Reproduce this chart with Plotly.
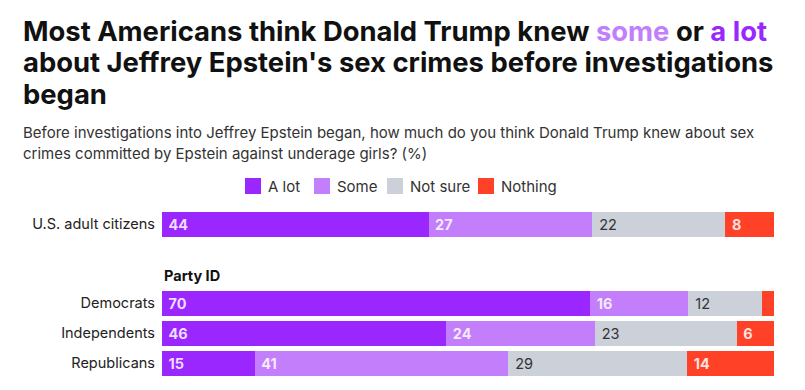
import plotly.graph_objects as go

# ---- data ----
categories = ["U.S. adult citizens", "Democrats", "Independents", "Republicans"]
a_lot = [44, 70, 46, 15]
some = [27, 16, 24, 41]
not_sure = [22, 12, 23, 29]
nothing = [8, 2, 6, 14]
series_names = ["A lot", "Some", "Not sure", "Nothing"]
colors = ["#9b27ff", "#c27efb", "#cbd0d9", "#ff4128"]

# ---- geometry (reference-window pixels; page body adds an 8px margin) ----
OFF = 8
W, H = 805 - OFF, 390 - OFF
L, R, T, B = 162, 774, 200, 380   # plot area in window pixels

def px(x):
    return (x - L) / (R - L)

def py(y):
    return (B - y) / (B - T)

# row positions in y units (1 unit = 30px)
row_y = [4.633, 2, 1, 0]
bar_w = 0.833
FONT = "Inter"

fig = go.Figure()
series = [a_lot, some, not_sure, nothing]
txt_colors = ["rgba(255,255,255,0.85)", "rgba(255,255,255,0.85)", "#333333", "rgba(255,255,255,0.85)"]
txt_weights = ["bold", "bold", "normal", "bold"]
for name, vals, col, tc, tw in zip(series_names, series, colors, txt_colors, txt_weights):
    labels = [(" " + str(v)) if v >= 4 else "" for v in vals]
    fig.add_trace(go.Bar(
        name=name, x=vals, y=row_y, orientation="h", width=bar_w,
        marker=dict(color=col, line=dict(width=0)),
        text=labels, textposition="inside", insidetextanchor="start", textangle=0,
        textfont=dict(family=FONT, size=14.5, color=tc, weight=tw),
        cliponaxis=False, showlegend=False, hoverinfo="skip",
    ))

fig.update_layout(
    barmode="stack", barnorm="percent",
    width=W, height=H,
    margin=dict(l=L - OFF, r=805 - R, t=T - OFF, b=390 - B, pad=0),
    paper_bgcolor="white", plot_bgcolor="white",
    font=dict(family=FONT, color="#222222"),
    xaxis=dict(range=[0, 100.01], visible=False, fixedrange=True),
    yaxis=dict(range=[-(B - 363) / 30, (363 - T) / 30],
               tickvals=row_y, ticktext=categories, showgrid=False,
               zeroline=False, showline=False, ticks="", ticklabelstandoff=6,
               tickfont=dict(family=FONT, size=14.5, color="#222222")),
)

ann = []
# title
title_lines = [
    "Most Americans think Donald Trump knew <span style='color:#c27efb'>some</span> or <span style='color:#9b27ff'>a lot</span>",
    "about Jeffrey Epstein's sex crimes before investigations",
    "began",
]
for i, t in enumerate(title_lines):
    ann.append(dict(text=t, x=px(21), y=py(31 + 31.3 * i), xref="paper", yref="paper",
                    xanchor="left", yanchor="middle", showarrow=False,
                    font=dict(family=FONT, size=27.4, color="#111111", weight="bold")))
sub_lines = [
    "Before investigations into Jeffrey Epstein began, how much do you think Donald Trump knew about sex",
    "crimes committed by Epstein against underage girls? (%)",
]
for i, t in enumerate(sub_lines):
    ann.append(dict(text=t, x=px(21), y=py(132 + 21 * i), xref="paper", yref="paper",
                    xanchor="left", yanchor="middle", showarrow=False,
                    font=dict(family=FONT, size=15, color="#333333")))
# legend
leg_sq = [245, 314, 387, 478]
shapes = []
for name, col, x0 in zip(series_names, colors, leg_sq):
    shapes.append(dict(type="rect", xref="paper", yref="paper",
                       x0=px(x0), x1=px(x0 + 16), y0=py(194), y1=py(178),
                       fillcolor=col, line=dict(width=0)))
    ann.append(dict(text=name, x=px(x0 + 21), y=py(186), xref="paper", yref="paper",
                    xanchor="left", yanchor="middle", showarrow=False,
                    font=dict(family=FONT, size=15, color="#333333")))
# group header
ann.append(dict(text="Party ID", x=0, y=py(275), xref="paper", yref="paper",
                xanchor="left", yanchor="middle", showarrow=False,
                font=dict(family=FONT, size=14.5, color="#111111", weight="bold")))

fig.update_layout(annotations=ann, shapes=shapes)
fig.write_html("out.html")
